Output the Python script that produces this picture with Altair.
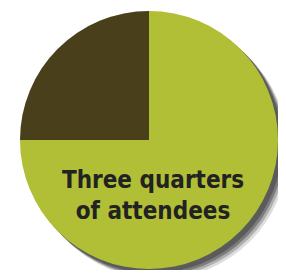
import altair as alt
import pandas as pd

categories = ["Three quarters of attendees", "Others"]
values = [75, 25]
order = [1, 2]
colors = ["#b1bf36", "#4a3f1b"]
label_lines = ["Three quarters", "of attendees"]

df = pd.DataFrame({"category": categories, "value": values, "order": order})

cx, cy, r = 141, 132, 129

# soft drop shadow built from stacked offset discs
shadow_steps = [(10, 0.2), (8, 0.35), (6, 0.6), (4, 0.95)]
shadows = [
    alt.Chart(pd.DataFrame({"v": [1]})).mark_arc(
        outerRadius=r, color="#5a5a5a", opacity=op, theta=0, theta2=6.2832
    ).encode(x=alt.value(cx + off), y=alt.value(cy + off))
    for off, op in shadow_steps
]

pie = alt.Chart(df).mark_arc(outerRadius=r).encode(
    theta=alt.Theta("value:Q", stack=True),
    order=alt.Order("order:Q"),
    color=alt.Color("category:N", scale=alt.Scale(domain=categories, range=colors), legend=None),
    x=alt.value(cx),
    y=alt.value(cy),
)

label = alt.Chart(pd.DataFrame({"t": [label_lines]})).mark_text(
    font="DejaVu Sans Condensed, Liberation Sans Narrow, sans-serif",
    fontWeight="bold", fontSize=24, color="#222222", align="center",
    baseline="alphabetic", lineHeight=31
).encode(text="t", x=alt.value(145), y=alt.value(180))

chart = alt.layer(*shadows, pie, label).properties(
    width=270, height=262, padding=0, autosize="none"
).configure_view(stroke=None)

chart.save("out.html", embed_options={"renderer": "svg", "actions": False})
